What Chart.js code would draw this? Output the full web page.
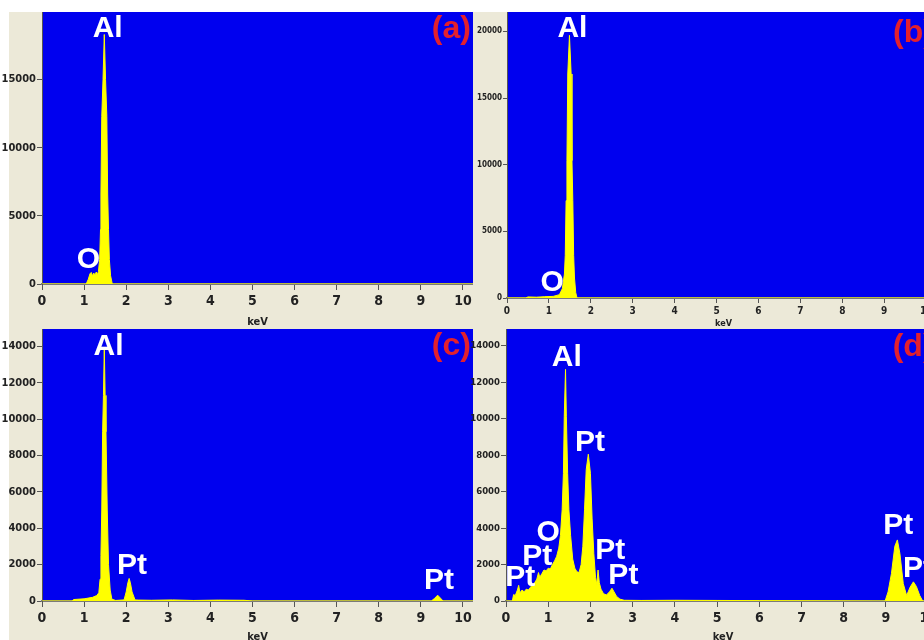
<!DOCTYPE html>
<html>
<head>
<meta charset="utf-8">
<script src="https://cdn.jsdelivr.net/npm/chart.js@4.4.1/dist/chart.umd.min.js"></script>
<style>
  html, body { margin: 0; padding: 0; background: #fff; overflow: hidden; width: 924px; height: 640px; }
  #bg { position: absolute; left: 9px; top: 12px; width: 915px; height: 628px; background: #ece9d8; }
  canvas { position: absolute; }
</style>
</head>
<body>
<div id="bg"></div>
<canvas id="ca" width="473" height="317" style="left:0px;top:12px"></canvas>
<canvas id="cb" width="467" height="317" style="left:473px;top:12px"></canvas>
<canvas id="cc" width="473" height="315" style="left:0px;top:329px"></canvas>
<canvas id="cd" width="477" height="315" style="left:463px;top:329px"></canvas>
<script>
// spectrum values (keV, counts)
const energyA = [0, 1.05, 1.10, 1.14, 1.17, 1.20, 1.23, 1.26, 1.29, 1.32, 1.34, 1.37, 1.39, 1.40, 1.42, 1.45, 1.48, 1.51, 1.54, 1.56, 1.58, 1.60, 1.63, 1.67, 10.3];
const countsA = [0, 0, 350, 750, 850, 600, 800, 650, 880, 700, 900, 1800, 4000, 6600, 12300, 15000, 18300, 15000, 12300, 6600, 4000, 1800, 600, 0, 0];

const energyB = [0, 0.45, 0.5, 0.7, 0.9, 1.1, 1.25, 1.32, 1.37, 1.39, 1.41, 1.43, 1.45, 1.49, 1.53, 1.55, 1.57, 1.59, 1.61, 1.64, 1.67, 10.4];
const countsB = [0, 0, 80, 60, 100, 120, 250, 700, 1800, 3200, 7300, 10300, 16800, 19700, 16800, 10300, 7300, 3200, 1500, 400, 0, 0];

const energyC = [0, 0.72, 0.75, 1.0, 1.2, 1.3, 1.35, 1.38, 1.40, 1.42, 1.44, 1.46, 1.48, 1.50, 1.52, 1.55, 1.58, 1.62, 1.66, 1.75, 1.95, 2.00, 2.04, 2.07, 2.10, 2.14, 2.21, 2.3, 2.6, 3.1, 3.6, 4.2, 4.8, 5.0, 9.25, 9.33, 9.40, 9.47, 9.53, 10.3];
const countsC = [0, 0, 80, 120, 200, 300, 450, 1200, 2500, 5000, 9300, 11300, 13900, 11300, 9300, 5000, 2000, 600, 100, 30, 60, 500, 1000, 1240, 1000, 500, 60, 50, 40, 60, 30, 50, 40, 0, 0, 150, 320, 150, 0, 0];

const energyD = [0, 0.15, 0.18, 0.22, 0.27, 0.30, 0.33, 0.38, 0.43, 0.48, 0.53, 0.58, 0.63, 0.68, 0.73, 0.77, 0.80, 0.85, 0.90, 0.95, 1.00, 1.05, 1.10, 1.15, 1.20, 1.25, 1.29, 1.33, 1.36, 1.38, 1.41, 1.43, 1.46, 1.49, 1.53, 1.58, 1.63, 1.68, 1.73, 1.78, 1.82, 1.86, 1.90, 1.95, 2.00, 2.04, 2.08, 2.12, 2.15, 2.18, 2.21, 2.25, 2.31, 2.38, 2.45, 2.51, 2.56, 2.62, 2.70, 2.80, 3.2, 4.0, 5.0, 6.0, 8.98, 9.05, 9.13, 9.21, 9.27, 9.33, 9.41, 9.49, 9.57, 9.65, 9.72, 9.80, 9.87, 10.3];
const countsD = [0, 0, 350, 300, 600, 860, 450, 600, 500, 650, 600, 750, 900, 1000, 1200, 1560, 1300, 1500, 1700, 1650, 1800, 1750, 2000, 2200, 2450, 2900, 3600, 5000, 7000, 10100, 12700, 10100, 7000, 5000, 3600, 2300, 1800, 1600, 1560, 2000, 3000, 5000, 7200, 8050, 7000, 4500, 2600, 1300, 900, 1700, 1000, 650, 400, 330, 500, 700, 500, 250, 100, 40, 30, 40, 30, 20, 0, 500, 1500, 3000, 3350, 2600, 950, 300, 750, 1050, 800, 300, 0, 0];

const xTicks = [0, 1, 2, 3, 4, 5, 6, 7, 8, 9, 10];
const yTicksA = [0, 5000, 10000, 15000];
const yTicksB = [0, 5000, 10000, 15000, 20000];
const yTicksCD = [0, 2000, 4000, 6000, 8000, 10000, 12000, 14000];

const BLUE = '#0000ef';
const YELLOW = '#ffff00';
const RED = '#e3202d';
const NARROW = "'Liberation Sans Narrow', 'DejaVu Sans Condensed', 'Liberation Sans', sans-serif";
const BOLD = "'Liberation Sans', Arial, sans-serif";

// blue plot field behind everything; also ask for condensed faces for the axis text
const bluePlot = {
  id: 'bluePlot',
  beforeDraw(chart) {
    const { ctx, chartArea: a } = chart;
    if ('fontStretch' in ctx) ctx.fontStretch = 'condensed';
    ctx.save();
    ctx.fillStyle = BLUE;
    ctx.fillRect(a.left, a.top, a.right - a.left, a.bottom - a.top);
    ctx.restore();
  }
};

// element labels and panel letters, anchored in keV / counts
const notesPlugin = {
  id: 'notes',
  afterDraw(chart, args, opts) {
    const { ctx, scales } = chart;
    ctx.save();
    if ('fontStretch' in ctx) ctx.fontStretch = 'normal';
    ctx.textBaseline = 'middle';
    for (const n of opts.items) {
      ctx.font = 'bold ' + (n.size || 30) + 'px ' + BOLD;
      ctx.fillStyle = n.color || '#ffffff';
      ctx.textAlign = n.align || 'center';
      ctx.fillText(n.text, scales.x.getPixelForValue(n.x), scales.y.getPixelForValue(n.y));
    }
    ctx.restore();
  }
};

function panel(id, energy, counts, xMax, yMax, yTicks, yW, xH, notes, small, yFont) {
  new Chart(document.getElementById(id), {
    type: 'scatter',
    data: {
      datasets: [{
        data: energy.map((e, i) => ({ x: e, y: counts[i] })),
        showLine: true,
        fill: 'origin',
        backgroundColor: YELLOW,
        borderColor: YELLOW,
        borderWidth: 1,
        pointRadius: 0,
        tension: 0
      }]
    },
    options: {
      responsive: false,
      animation: false,
      events: [],
      layout: { padding: 0 },
      plugins: {
        legend: { display: false },
        tooltip: { enabled: false },
        notes: { items: notes }
      },
      scales: {
        x: {
          type: 'linear', min: 0, max: xMax,
          afterBuildTicks: s => { s.ticks = xTicks.map(v => ({ value: v })); },
          afterFit: s => { s.height = xH; s.paddingLeft = 0; s.paddingRight = 0; },
          grid: { drawOnChartArea: false, drawTicks: true, tickLength: small ? 5 : 6, color: '#555' },
          border: { display: true, color: '#7a7a7a', width: 2 },
          ticks: { color: '#222', font: { family: NARROW, size: small ? 10 : 14, weight: 'bold' }, padding: small ? 2 : 3, maxRotation: 0, autoSkip: false, callback: v => String(v) },
          title: { display: true, text: 'keV', color: '#222', font: { family: NARROW, size: small ? 9 : 11, weight: 'bold' }, padding: 0 }
        },
        y: {
          type: 'linear', min: 0, max: yMax,
          afterBuildTicks: s => { s.ticks = yTicks.map(v => ({ value: v })); },
          afterFit: s => { s.width = yW; s.paddingTop = 0; s.paddingBottom = 0; },
          grid: { drawOnChartArea: false, drawTicks: true, tickLength: small ? 4 : 5, color: '#555' },
          border: { display: true, color: '#555', width: 1 },
          ticks: { color: '#222', font: { family: NARROW, size: yFont, weight: 'bold' }, padding: 1, autoSkip: false, callback: v => String(v) }
        }
      }
    },
    plugins: [bluePlot, notesPlugin]
  });
}

panel('ca', energyA, countsA, 10.24, 19950, yTicksA, 42, 45, [
  { text: 'Al', x: 1.56, y: 18740 },
  { text: 'O', x: 1.10, y: 1800 },
  { text: '(a)', x: 9.26, y: 18700, color: RED, size: 32, align: 'left' }
], false, 11);

panel('cb', energyB, countsB, 10.33, 21450, yTicksB, 34, 31, [
  { text: 'Al', x: 1.56, y: 20175 },
  { text: 'O', x: 1.08, y: 1160 },
  { text: '(b)', x: 9.21, y: 19875, color: RED, size: 32, align: 'left' }
], true, 8);

panel('cc', energyC, countsC, 10.24, 14950, yTicksCD, 42, 43, [
  { text: 'Al', x: 1.58, y: 13960 },
  { text: 'Pt', x: 2.14, y: 1920 },
  { text: 'Pt', x: 9.43, y: 1090 },
  { text: '(c)', x: 9.26, y: 13990, color: RED, size: 32, align: 'left' }
], false, 11);

panel('cd', energyD, countsD, 10.28, 14915, yTicksCD, 43, 43, [
  { text: 'Al', x: 1.44, y: 13320 },
  { text: 'Pt', x: 1.99, y: 8690 },
  { text: 'O', x: 1.00, y: 3730 },
  { text: 'Pt', x: 0.74, y: 2400 },
  { text: 'Pt', x: 0.34, y: 1300 },
  { text: 'Pt', x: 2.47, y: 2740 },
  { text: 'Pt', x: 2.78, y: 1370 },
  { text: 'Pt', x: 9.29, y: 4120 },
  { text: 'Pt', x: 9.76, y: 1750 },
  { text: '(d)', x: 9.16, y: 13920, color: RED, size: 32, align: 'left' }
], false, 9.5);
</script>
</body>
</html>
